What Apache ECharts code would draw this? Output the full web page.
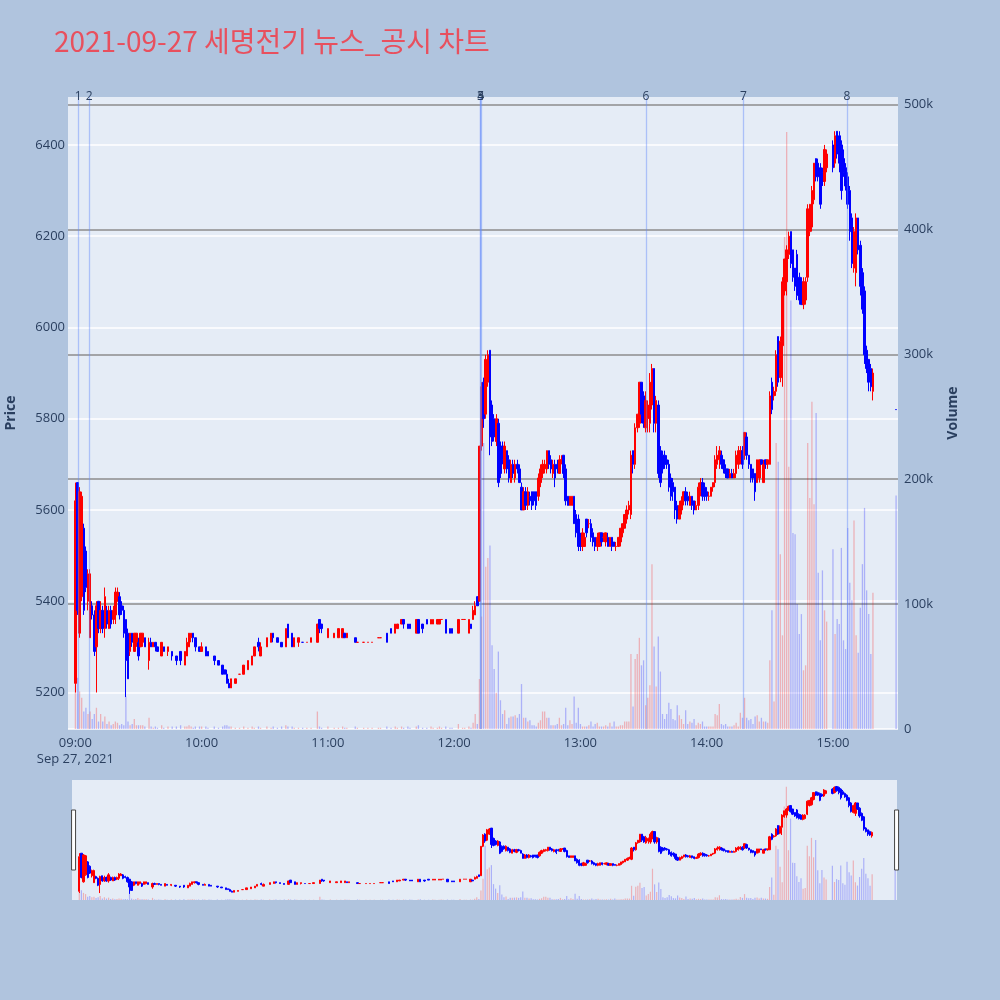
<!DOCTYPE html>
<html>
<head>
<meta charset="utf-8">
<script src="https://cdn.jsdelivr.net/npm/echarts@6/dist/echarts.min.js"></script>
<style>
  html, body { margin: 0; padding: 0; background: #b0c4de; }
  #chart { width: 1000px; height: 1000px; }
</style>
</head>
<body>
<div id="chart"></div>
<script>
// minute candles: [time, open, close, low, high, volume (thousand shares)]
var rows0900 = [
  ['09:00',5220,5620,5200,5660,35], ['09:01',5660,5380,5370,5660,41], ['09:02',5330,5640,5320,5650,30],
  ['09:03',5410,5630,5400,5640,25], ['09:04',5560,5380,5370,5570,14], ['09:05',5510,5430,5420,5520,17],
  ['09:06',5400,5460,5380,5470,12], ['09:07',5320,5460,5320,5470,14], ['09:08',5390,5370,5360,5400,8],
  ['09:09',5370,5290,5280,5380,12], ['09:10',5300,5390,5200,5400,17], ['09:11',5400,5340,5330,5400,6],
  ['09:12',5340,5380,5330,5400,12], ['09:13',5380,5340,5330,5390,6], ['09:14',5340,5410,5320,5430,10],
  ['09:15',5380,5350,5340,5390,4], ['09:16',5340,5380,5340,5390,6], ['09:17',5380,5350,5340,5390,3],
  ['09:18',5360,5380,5350,5390,4], ['09:19',5370,5420,5350,5430,6], ['09:20',5400,5420,5400,5430,5],
  ['09:21',5410,5370,5360,5420,3], ['09:22',5390,5380,5370,5400,4], ['09:23',5380,5330,5320,5390,3],
  ['09:24',5360,5270,5190,5360,26], ['09:25',5330,5230,5230,5340,6], ['09:26',5290,5330,5280,5330,3],
  ['09:27',5330,5310,5300,5330,4], ['09:28',5290,5330,5290,5330,8], ['09:29',5310,5330,5300,5330,3],
  ['09:30',5310,5280,5270,5320,3], ['09:31',5300,5330,5300,5330,3], ['09:32',5310,5330,5300,5330,3],
  ['09:33',5320,5300,5300,5320,2], ['09:35',5270,5310,5250,5320,9], ['09:36',5310,5300,5300,5320,2],
  ['09:37',5300,5310,5300,5310,1], ['09:38',5310,5300,5290,5310,2], ['09:39',5300,5290,5290,5300,1],
  ['09:41',5280,5310,5280,5310,3], ['09:42',5300,5290,5290,5300,1], ['09:44',5290,5300,5280,5300,2],
  ['09:46',5290,5280,5270,5290,2], ['09:48',5280,5270,5260,5280,2], ['09:50',5290,5270,5260,5290,3],
  ['09:52',5260,5290,5260,5290,2], ['09:53',5280,5310,5280,5320,2], ['09:54',5300,5330,5300,5330,3],
  ['09:55',5320,5330,5310,5330,2], ['09:56',5330,5320,5310,5330,1], ['09:57',5320,5300,5290,5320,2],
  ['09:59',5300,5290,5290,5300,2]
];
var rows1000 = [
  ['10:00',5290,5300,5290,5310,2], ['10:02',5300,5280,5280,5300,2], ['10:03',5290,5280,5280,5290,1],
  ['10:06',5280,5270,5260,5280,2], ['10:08',5270,5260,5260,5270,1], ['10:10',5260,5240,5240,5260,2],
  ['10:11',5250,5240,5240,5250,3], ['10:12',5240,5220,5220,5250,3], ['10:13',5220,5210,5210,5230,2],
  ['10:14',5210,5230,5210,5230,2], ['10:16',5220,5230,5220,5230,1], ['10:18',5240,5240,5240,5240,1],
  ['10:20',5240,5260,5240,5260,2], ['10:22',5250,5270,5250,5270,1], ['10:24',5260,5280,5260,5280,2],
  ['10:25',5280,5300,5280,5300,1], ['10:27',5310,5300,5290,5320,2], ['10:28',5280,5300,5280,5310,1],
  ['10:31',5300,5320,5300,5320,2], ['10:33',5310,5330,5310,5330,1], ['10:34',5330,5320,5310,5330,2],
  ['10:36',5320,5310,5310,5320,1], ['10:38',5310,5300,5300,5310,2], ['10:40',5300,5340,5300,5340,3],
  ['10:41',5350,5320,5320,5350,2], ['10:43',5330,5300,5300,5330,2], ['10:44',5300,5320,5300,5320,1],
  ['10:46',5310,5320,5300,5320,1], ['10:48',5310,5310,5310,5310,1], ['10:50',5310,5310,5310,5310,1],
  ['10:52',5310,5320,5310,5320,1], ['10:55',5310,5350,5310,5350,14], ['10:56',5360,5340,5330,5360,2],
  ['10:57',5350,5340,5330,5350,1]
];
var rows1100 = [
  ['11:00',5320,5340,5320,5340,2], ['11:03',5320,5330,5320,5330,1], ['11:05',5320,5340,5320,5340,1],
  ['11:07',5320,5340,5320,5340,2], ['11:08',5330,5320,5320,5330,1], ['11:09',5320,5330,5320,5330,1],
  ['11:13',5320,5310,5310,5320,2], ['11:14',5310,5310,5310,5310,1], ['11:17',5310,5310,5310,5310,1],
  ['11:19',5310,5310,5310,5310,1], ['11:21',5310,5310,5310,5310,1], ['11:24',5320,5320,5320,5320,1],
  ['11:25',5320,5320,5320,5320,1], ['11:28',5330,5310,5310,5330,2], ['11:30',5340,5330,5330,5340,1],
  ['11:32',5330,5350,5330,5350,2], ['11:33',5340,5350,5340,5350,1], ['11:35',5350,5360,5350,5360,2],
  ['11:36',5360,5350,5340,5360,1], ['11:38',5350,5340,5340,5350,2], ['11:39',5350,5340,5340,5350,1],
  ['11:42',5330,5360,5330,5360,2], ['11:43',5360,5330,5330,5360,3], ['11:45',5350,5340,5330,5350,1],
  ['11:47',5360,5350,5350,5360,1], ['11:49',5350,5360,5350,5360,2], ['11:50',5350,5360,5350,5360,1],
  ['11:52',5350,5360,5350,5360,1], ['11:53',5350,5360,5350,5360,2], ['11:54',5360,5360,5360,5360,1],
  ['11:56',5360,5330,5330,5360,2], ['11:58',5340,5330,5330,5340,1], ['11:59',5340,5330,5330,5340,1]
];
var rows1200 = [
  ['12:02',5330,5360,5330,5360,4], ['12:04',5360,5360,5360,5360,1], ['12:05',5360,5360,5360,5360,1],
  ['12:07',5330,5360,5330,5360,2], ['12:08',5350,5340,5340,5350,1], ['12:09',5360,5380,5360,5390,5],
  ['12:10',5370,5390,5370,5400,12], ['12:11',5410,5390,5390,5410,4], ['12:12',5400,5740,5400,5740,40],
  ['12:13',5740,5870,5730,5880,90], ['12:14',5880,5800,5780,5890,229], ['12:15',5810,5930,5800,5940,130],
  ['12:16',5880,5940,5870,5950,137], ['12:17',5950,5760,5720,5950,147], ['12:18',5830,5750,5740,5840,67],
  ['12:19',5800,5760,5750,5810,48], ['12:20',5750,5800,5740,5810,29], ['12:21',5790,5660,5650,5800,62],
  ['12:22',5740,5680,5670,5750,23], ['12:23',5740,5710,5700,5750,12], ['12:24',5690,5740,5680,5750,15],
  ['12:25',5730,5690,5680,5730,4], ['12:26',5710,5670,5660,5720,9], ['12:27',5660,5700,5660,5710,10],
  ['12:28',5700,5680,5670,5710,10], ['12:29',5670,5700,5660,5710,11], ['12:30',5700,5690,5680,5710,9],
  ['12:31',5690,5660,5660,5700,12], ['12:32',5650,5600,5600,5660,36], ['12:33',5600,5640,5600,5650,9],
  ['12:34',5640,5610,5600,5650,9], ['12:35',5610,5640,5600,5650,6], ['12:36',5630,5620,5610,5640,7],
  ['12:37',5640,5610,5600,5640,3], ['12:38',5640,5620,5610,5640,3], ['12:39',5640,5610,5600,5640,2],
  ['12:40',5630,5670,5620,5680,5], ['12:41',5660,5690,5650,5700,7], ['12:42',5680,5700,5670,5710,14],
  ['12:43',5690,5700,5680,5710,14], ['12:44',5690,5730,5680,5730,9], ['12:45',5730,5700,5690,5730,9],
  ['12:46',5710,5690,5680,5720,3], ['12:47',5680,5700,5670,5710,3], ['12:48',5700,5670,5650,5710,3],
  ['12:49',5700,5690,5680,5710,4], ['12:50',5680,5710,5680,5720,9], ['12:51',5710,5710,5700,5720,3],
  ['12:52',5720,5680,5670,5720,4], ['12:53',5690,5620,5610,5700,17], ['12:54',5630,5610,5610,5630,3],
  ['12:55',5610,5630,5610,5630,7], ['12:56',5610,5630,5610,5630,4], ['12:57',5630,5570,5570,5630,26],
  ['12:58',5590,5550,5540,5600,5], ['12:59',5580,5520,5510,5590,17]
];
var rows1300 = [
  ['13:00',5540,5520,5510,5550,4], ['13:01',5520,5550,5510,5560,2], ['13:02',5520,5540,5520,5550,2],
  ['13:03',5580,5550,5540,5580,2], ['13:04',5570,5570,5560,5580,3], ['13:05',5570,5540,5530,5580,6],
  ['13:06',5550,5530,5520,5560,2], ['13:07',5540,5520,5510,5540,4], ['13:08',5520,5540,5510,5550,5],
  ['13:09',5520,5550,5520,5550,2], ['13:10',5550,5530,5520,5550,2], ['13:11',5540,5540,5530,5550,2],
  ['13:12',5530,5550,5520,5550,3], ['13:13',5540,5520,5520,5550,2], ['13:14',5520,5540,5520,5540,5],
  ['13:15',5540,5520,5510,5540,2], ['13:16',5530,5520,5520,5530,6], ['13:17',5520,5520,5510,5530,2],
  ['13:18',5520,5540,5520,5540,2], ['13:19',5530,5560,5520,5560,3], ['13:20',5550,5570,5540,5570,3],
  ['13:21',5560,5590,5560,5590,6], ['13:22',5580,5600,5570,5610,6], ['13:23',5600,5610,5590,5620,6],
  ['13:24',5590,5720,5580,5730,60], ['13:25',5730,5700,5680,5730,18], ['13:26',5700,5780,5690,5790,56],
  ['13:27',5780,5810,5770,5810,60], ['13:28',5790,5880,5780,5880,73], ['13:29',5880,5810,5790,5880,51],
  ['13:30',5850,5790,5780,5860,55], ['13:31',5780,5840,5770,5860,19], ['13:32',5800,5830,5770,5840,25],
  ['13:33',5790,5880,5770,5900,35], ['13:34',5830,5910,5820,5920,132], ['13:35',5910,5790,5770,5910,66],
  ['13:36',5790,5840,5770,5850,34], ['13:37',5830,5680,5670,5840,74], ['13:38',5730,5660,5650,5740,46],
  ['13:39',5720,5690,5680,5730,12], ['13:40',5720,5700,5690,5730,8], ['13:41',5710,5700,5690,5720,12],
  ['13:42',5700,5650,5640,5710,21], ['13:43',5670,5630,5620,5680,16], ['13:44',5660,5640,5620,5670,8],
  ['13:45',5650,5600,5580,5650,7], ['13:46',5610,5580,5570,5620,19], ['13:47',5580,5610,5580,5620,11],
  ['13:48',5600,5620,5590,5630,8], ['13:49',5620,5640,5610,5640,4], ['13:50',5640,5620,5610,5650,15],
  ['13:51',5630,5620,5610,5640,4], ['13:52',5610,5630,5610,5640,6], ['13:53',5630,5610,5600,5630,5],
  ['13:54',5620,5600,5590,5620,8], ['13:55',5600,5610,5600,5620,3], ['13:56',5610,5650,5600,5660,5],
  ['13:57',5640,5660,5630,5670,4], ['13:58',5660,5630,5620,5670,6], ['13:59',5650,5630,5620,5660,2]
];
var rows1400 = [
  ['14:00',5640,5630,5620,5650,2], ['14:01',5630,5630,5620,5640,2], ['14:02',5630,5650,5630,5650,2],
  ['14:03',5650,5660,5640,5660,2], ['14:04',5660,5710,5650,5720,12], ['14:05',5700,5720,5690,5740,11],
  ['14:06',5710,5730,5690,5740,20], ['14:07',5720,5700,5690,5730,4], ['14:08',5710,5690,5680,5710,3],
  ['14:09',5690,5680,5670,5700,4], ['14:10',5690,5670,5670,5690,2], ['14:11',5670,5680,5670,5690,2],
  ['14:12',5680,5670,5670,5690,2], ['14:13',5670,5680,5670,5690,3], ['14:14',5680,5720,5670,5730,5],
  ['14:15',5700,5730,5690,5740,2], ['14:16',5710,5730,5700,5740,13], ['14:17',5730,5700,5690,5740,9],
  ['14:18',5720,5770,5710,5770,25], ['14:19',5760,5720,5710,5770,9], ['14:20',5720,5700,5690,5720,7],
  ['14:21',5700,5670,5660,5700,8], ['14:22',5690,5670,5660,5690,4], ['14:23',5680,5640,5620,5680,10],
  ['14:24',5660,5710,5660,5710,11], ['14:25',5670,5710,5660,5710,6], ['14:26',5710,5700,5700,5710,9],
  ['14:27',5660,5700,5660,5710,6], ['14:28',5710,5700,5690,5710,6], ['14:29',5700,5710,5690,5710,5],
  ['14:30',5700,5850,5700,5860,55], ['14:31',5880,5820,5810,5890,95], ['14:32',5850,5860,5840,5870,22],
  ['14:33',5860,5940,5850,5950,229], ['14:34',5980,5880,5870,5980,214], ['14:35',5890,5970,5880,5980,140],
  ['14:36',5960,6100,5870,6110,75], ['14:37',6080,6150,6070,6150,394], ['14:38',6100,6170,6070,6180,478],
  ['14:39',6160,6200,6150,6210,210], ['14:40',6210,6140,6130,6210,343], ['14:41',6170,6110,6100,6170,157],
  ['14:42',6130,6090,6080,6130,156], ['14:43',6160,6070,6060,6170,100], ['14:44',6110,6060,6050,6120,76],
  ['14:45',6100,6050,6050,6110,92], ['14:46',6050,6100,6040,6110,47], ['14:47',6060,6100,6050,6110,51],
  ['14:48',6110,6260,6100,6270,229], ['14:49',6210,6270,6200,6270,185], ['14:50',6220,6300,6210,6310,262],
  ['14:51',6280,6360,6270,6360,180], ['14:52',6370,6330,6320,6370,253], ['14:53',6360,6330,6320,6370,125],
  ['14:54',6350,6270,6260,6360,71], ['14:55',6340,6320,6310,6350,127], ['14:56',6320,6390,6310,6400,95],
  ['14:57',6350,6380,6340,6390,86]
];
var rows1500 = [
  ['15:00',6400,6350,6340,6410,144], ['15:01',6360,6420,6350,6430,76], ['15:02',6430,6380,6370,6430,88],
  ['15:03',6420,6360,6340,6430,84], ['15:04',6400,6300,6280,6410,145], ['15:05',6370,6340,6330,6390,71],
  ['15:06',6350,6310,6300,6360,64], ['15:07',6330,6270,6260,6340,161], ['15:08',6300,6210,6190,6310,117],
  ['15:09',6240,6140,6130,6250,103], ['15:10',6130,6210,6120,6220,167], ['15:11',6120,6240,6090,6250,75],
  ['15:12',6240,6170,6160,6240,61], ['15:13',6180,6090,6070,6190,97], ['15:14',6120,6040,6030,6130,132],
  ['15:15',6080,5940,5920,6090,177], ['15:16',5950,5910,5900,5960,111], ['15:17',5930,5880,5860,5930,92],
  ['15:18',5910,5870,5860,5920,60], ['15:19',5860,5900,5840,5910,109], ['15:30',5820,5820,5820,5820,187]
];

var newsTimes = ['09:01:17', '09:06:30', '12:12:30', '12:12:35', '12:12:40', '13:31:10', '14:17:30', '15:06:40'];
var newsLabels = ['1', '2', '3', '4', '5', '6', '7', '8'];

var priceTicks = [5200, 5400, 5600, 5800, 6000, 6200, 6400];
var volumeTicks = [0, 100000, 200000, 300000, 400000, 500000];
var xRange = ['08:56:48', '15:30:36'];
var priceRange = [5120, 6505];
var volumeRange = [0, 506000];

var UP = '#ff0000', DOWN = '#0000ff';
var TEXT = '#2a3f5f';
var FONT = '"Open Sans", "Noto Sans", sans-serif';

function toTime(s) {
  var p = s.split(':');
  return new Date(2021, 8, 27, +p[0], +p[1], +(p[2] || 0)).getTime();
}
function pad(n) { return (n < 10 ? '0' : '') + n; }

var rows = rows0900.concat(rows1000, rows1100, rows1200, rows1300, rows1400, rows1500);

var candleData = [], volumeData = [];
for (var i = 0; i < rows.length; ++i) {
  var r = rows[i];
  var t = toTime(r[0]);
  candleData.push([t, r[1], r[2], r[3], r[4]]);
  var up;
  if (r[2] > r[1]) up = true;
  else if (r[2] < r[1]) up = false;
  else up = i === 0 || rows[i - 1][2] <= r[2];
  volumeData.push({ value: [t, r[5] * 1000], itemStyle: { color: up ? UP : DOWN } });
}

var newsMarks = newsTimes.map(function (s, idx) {
  return { name: newsLabels[idx], xAxis: toTime(s) };
});

var candleStyle = { color: UP, color0: DOWN, borderColor: UP, borderColor0: DOWN, borderWidth: 1 };

var chart = echarts.init(document.getElementById('chart'), null, { renderer: 'canvas' });

chart.setOption({
  animation: false,
  backgroundColor: '#b0c4de',
  title: {
    text: '2021-09-27 세명전기 뉴스_공시 차트',
    left: 49, top: 22,
    textStyle: { color: '#e8505e', fontSize: 28, fontWeight: 'normal', fontFamily: '"Noto Sans CJK KR", sans-serif' }
  },
  grid: [
    { left: 68, right: 102, top: 97, bottom: 271, show: true, backgroundColor: '#e5ecf6', borderWidth: 0, outerBoundsMode: 'none' },
    { left: 72, right: 103, top: 780, height: 120, show: true, backgroundColor: '#e5ecf6', borderWidth: 0, outerBoundsMode: 'none' }
  ],
  xAxis: [
    {
      type: 'time', gridIndex: 0,
      min: toTime(xRange[0]), max: toTime(xRange[1]),
      minInterval: 3600 * 1000, maxInterval: 3600 * 1000,
      axisLine: { show: false }, axisTick: { show: false }, splitLine: { show: false },
      axisLabel: {
        color: TEXT, fontSize: 13, fontFamily: FONT, margin: 6, lineHeight: 16,
        showMinLabel: false, showMaxLabel: false,
        formatter: function (v) {
          var d = new Date(v);
          if (d.getMinutes() !== 0 || d.getSeconds() !== 0) return '';
          var s = pad(d.getHours()) + ':00';
          return d.getHours() === 9 ? s + '\nSep 27, 2021' : s;
        }
      }
    },
    {
      type: 'time', gridIndex: 1, show: false,
      min: toTime(xRange[0]), max: toTime(xRange[1])
    }
  ],
  yAxis: [
    {
      type: 'value', gridIndex: 0, position: 'left',
      min: priceRange[0], max: priceRange[1],
      name: 'Price', nameLocation: 'middle', nameGap: 50,
      nameTextStyle: { color: TEXT, fontSize: 14, fontWeight: 'bold', fontFamily: FONT },
      axisLine: { show: false },
      axisTick: { show: false, customValues: priceTicks },
      axisLabel: {
        customValues: priceTicks, color: TEXT, fontSize: 13, fontFamily: FONT, margin: 3,
        formatter: function (v) { return String(v); }
      },
      splitLine: { show: true, lineStyle: { color: '#ffffff', width: 1.5 } }
    },
    {
      type: 'value', gridIndex: 0, position: 'right',
      min: volumeRange[0], max: volumeRange[1],
      name: 'Volume', nameLocation: 'middle', nameGap: 48, nameRotate: 90,
      nameTextStyle: { color: TEXT, fontSize: 14, fontWeight: 'bold', fontFamily: FONT },
      axisLine: { show: false },
      axisTick: { show: false, customValues: volumeTicks },
      axisLabel: {
        customValues: volumeTicks, color: TEXT, fontSize: 13, fontFamily: FONT, margin: 6,
        formatter: function (v) { return v === 0 ? '0' : (v / 1000) + 'k'; }
      },
      splitLine: {
        show: true,
        lineStyle: { color: ['#ffffff', '#8c8c8c', '#8c8c8c', '#8c8c8c', '#8c8c8c', '#8c8c8c'], width: 1.5 }
      }
    },
    { type: 'value', gridIndex: 1, show: false, min: priceRange[0], max: priceRange[1] },
    { type: 'value', gridIndex: 1, show: false, min: volumeRange[0], max: volumeRange[1] }
  ],
  dataZoom: [{
    type: 'slider', xAxisIndex: [0, 1], filterMode: 'none', start: 0, end: 100,
    left: 72, right: 103, top: 780, height: 120,
    showDataShadow: false, showDetail: false, brushSelect: false, moveHandleSize: 0,
    backgroundColor: 'rgba(0,0,0,0)', fillerColor: 'rgba(0,0,0,0)', borderColor: 'rgba(0,0,0,0)',
    handleIcon: 'path://M0,0H4V60H0Z', handleSize: '50%',
    handleStyle: { color: '#ffffff', borderColor: '#444444', borderWidth: 1 },
    emphasis: { handleStyle: { color: '#ffffff', borderColor: '#444444', borderWidth: 1 } },
    dataBackground: { lineStyle: { opacity: 0 }, areaStyle: { opacity: 0 } },
    selectedDataBackground: { lineStyle: { opacity: 0 }, areaStyle: { opacity: 0 } }
  }],
  series: [
    {
      type: 'bar', name: 'Volume', xAxisIndex: 0, yAxisIndex: 1,
      data: volumeData, barWidth: 1.3, itemStyle: { opacity: 0.25 }, silent: true
    },
    {
      type: 'candlestick', name: 'Price', xAxisIndex: 0, yAxisIndex: 0,
      data: candleData, encode: { x: 0, y: [1, 2, 3, 4] },
      barWidth: 2, itemStyle: candleStyle, silent: true,
      markLine: {
        silent: true, symbol: ['none', 'none'], animation: false,
        lineStyle: { color: 'rgba(100,140,250,0.45)', width: 1.3, type: 'solid' },
        label: { show: true, position: 'end', formatter: '{b}', color: TEXT, fontSize: 12, fontFamily: FONT, distance: -6 },
        emphasis: { disabled: true },
        data: newsMarks
      }
    },
    {
      type: 'bar', xAxisIndex: 1, yAxisIndex: 3,
      data: volumeData, barWidth: 1.2, itemStyle: { opacity: 0.25 }, silent: true
    },
    {
      type: 'candlestick', xAxisIndex: 1, yAxisIndex: 2,
      data: candleData, encode: { x: 0, y: [1, 2, 3, 4] },
      barWidth: 1.8, itemStyle: candleStyle, silent: true
    }
  ]
});
</script>
</body>
</html>
